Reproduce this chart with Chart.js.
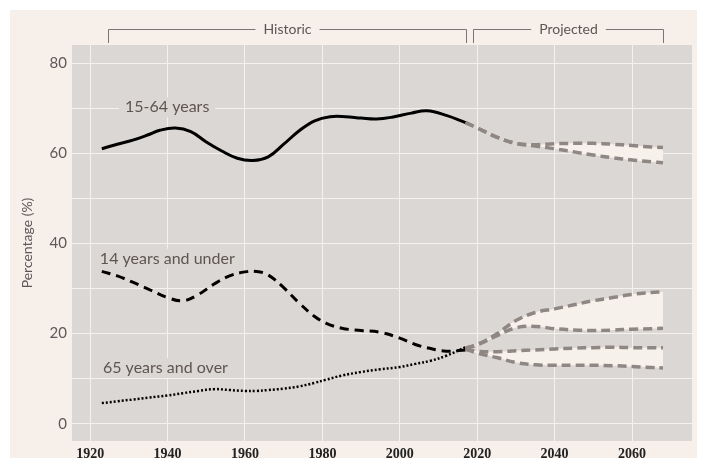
<!DOCTYPE html>
<html>
<head>
<meta charset="utf-8">
<script src="https://cdn.jsdelivr.net/npm/chart.js@4.4.1/dist/chart.umd.min.js"></script>
<style>
  html, body { margin: 0; padding: 0; background: #fff; }
  #wrap { width: 704px; height: 465px; }
</style>
</head>
<body>
<div id="wrap"><canvas id="line-chart" width="704" height="465"></canvas></div>
<script>
// historic data
const workingYears = [1923, 1927, 1931, 1935, 1938, 1942, 1946, 1950, 1954, 1958, 1962, 1966, 1970, 1974, 1978, 1982, 1986, 1990, 1994, 1998, 2003, 2007, 2012, 2017]
const working = [61.0, 62.0, 62.9, 64.1, 65.1, 65.6, 64.8, 62.5, 60.5, 58.9, 58.4, 59.2, 62.0, 65.0, 67.2, 68.1, 68.1, 67.8, 67.6, 68.0, 68.9, 69.4, 68.4, 66.8]
const histYears = [1923, 1927, 1931, 1935, 1940, 1944, 1948, 1952, 1956, 1960, 1963, 1966, 1970, 1974, 1978, 1981, 1985, 1990, 1995, 2000, 2004, 2008, 2012, 2017]
const children = [33.8, 32.8, 31.4, 29.9, 28.0, 27.3, 28.7, 31.0, 32.8, 33.7, 33.8, 33.0, 30.2, 26.8, 23.8, 22.3, 21.2, 20.7, 20.3, 19.0, 17.6, 16.7, 16.1, 16.4]
const elderly = [4.6, 5.0, 5.4, 5.8, 6.3, 6.8, 7.3, 7.7, 7.5, 7.3, 7.3, 7.5, 7.8, 8.3, 9.1, 9.8, 10.7, 11.5, 12.1, 12.6, 13.3, 14.0, 15.1, 17.0]

// projections
const projYears = [2017, 2020, 2025, 2030, 2035, 2040, 2045, 2050, 2055, 2060, 2065, 2068]
const workingHigh = [66.8, 65.6, 63.6, 62.2, 61.9, 62.1, 62.2, 62.2, 62.0, 61.7, 61.4, 61.3]
const workingLow = [66.8, 65.6, 63.6, 62.2, 61.6, 61.0, 60.3, 59.6, 59.0, 58.5, 58.1, 57.9]
const elderlyHigh = [16.8, 17.6, 19.9, 22.9, 24.7, 25.5, 26.4, 27.3, 28.0, 28.7, 29.1, 29.3]
const elderlyLow = [16.8, 17.5, 19.5, 21.3, 21.6, 21.1, 20.8, 20.7, 20.8, 21.0, 21.1, 21.2]
const childrenHigh = [16.6, 16.1, 16.0, 16.2, 16.4, 16.6, 16.8, 16.9, 17.0, 16.9, 16.9, 16.9]
const childrenLow = [16.6, 15.7, 14.7, 13.6, 13.1, 13.0, 13.0, 13.0, 12.9, 12.7, 12.5, 12.4]

// axis ticks
const xTicks = [1920, 1940, 1960, 1980, 2000, 2020, 2040, 2060]
const yGrid = [0, 10, 20, 30, 40, 50, 60, 70, 80]
const yLabels = [0, 20, 40, 60, 80]

// labels written on the plot
const seriesNames = ['15-64 years', '14 years and under', '65 years and over']
const nameYears = [1929, 1922.5, 1923.3]
const nameValues = [70.2, 36.6, 12.4]

const periodNames = ['Historic', 'Projected']
const periodFrom = [1924.5, 2019]
const periodTo = [2017, 2068]

const PLOT_BG = '#dbd7d4'
const PANEL_BG = '#f6efea'
const FILL = '#f7f1ec'
const PROJ = '#8f8784'
const TEXT = '#5e5552'

function pts(xs, ys) {
    return xs.map((x, i) => ({x: x, y: ys[i]}))
}

function proj(values, fill) {
    return {
        data: pts(projYears, values),
        borderColor: PROJ,
        borderWidth: 3.5,
        borderDash: [9, 5],
        pointRadius: 0,
        tension: 0.4,
        fill: fill ? {target: '+1', above: FILL, below: FILL} : false
    }
}

const backdrop = {
    id: 'backdrop',
    beforeDraw(chart) {
        const ctx = chart.ctx
        const a = chart.chartArea
        ctx.save()
        ctx.fillStyle = '#fff'
        ctx.fillRect(0, 0, chart.width, chart.height)
        ctx.fillStyle = PANEL_BG
        ctx.fillRect(10, 10, chart.width - 17, chart.height - 17)
        ctx.fillStyle = PLOT_BG
        ctx.fillRect(a.left, a.top, a.right - a.left, a.bottom - a.top)
        ctx.restore()
    }
}

const notes = {
    id: 'notes',
    afterDatasetsDraw(chart) {
        const ctx = chart.ctx
        const xs = chart.scales.x
        const ys = chart.scales.y
        ctx.save()
        ctx.font = '16px Lato'
        ctx.textBaseline = 'middle'
        ctx.textAlign = 'left'
        for (let i = 0; i < seriesNames.length; i++) {
            let px = xs.getPixelForValue(nameYears[i])
            let py = ys.getPixelForValue(nameValues[i])
            let w = ctx.measureText(seriesNames[i]).width
            ctx.fillStyle = PLOT_BG
            ctx.fillRect(px - 6, py - 10, w + 12, 20)
            ctx.fillStyle = TEXT
            ctx.fillText(seriesNames[i], px, py)
        }
        // brackets above the plot
        ctx.strokeStyle = '#7d7370'
        ctx.lineWidth = 1
        ctx.font = '14px Lato'
        ctx.textAlign = 'center'
        for (let i = 0; i < periodNames.length; i++) {
            let x1 = Math.round(xs.getPixelForValue(periodFrom[i])) + 0.5
            let x2 = Math.round(xs.getPixelForValue(periodTo[i])) + 0.5
            let y = 29.5
            let mid = (x1 + x2) / 2
            let w = ctx.measureText(periodNames[i]).width
            ctx.beginPath()
            ctx.moveTo(x1, 43); ctx.lineTo(x1, y); ctx.lineTo(mid - w / 2 - 8, y)
            ctx.moveTo(mid + w / 2 + 8, y); ctx.lineTo(x2, y); ctx.lineTo(x2, 43)
            ctx.stroke()
            ctx.fillStyle = TEXT
            ctx.fillText(periodNames[i], mid, y)
        }
        ctx.restore()
    }
}

new Chart(document.getElementById('line-chart'), {
    type: 'line',
    data: {
        datasets: [
            proj(workingHigh, true),
            proj(workingLow, false),
            proj(elderlyHigh, true),
            proj(elderlyLow, false),
            proj(childrenHigh, true),
            proj(childrenLow, false),
            {
                data: pts(workingYears, working),
                borderColor: '#000',
                borderWidth: 3,
                pointRadius: 0,
                tension: 0.4,
                fill: false
            },
            {
                data: pts(histYears, children),
                borderColor: '#000',
                borderWidth: 3,
                borderDash: [9, 6],
                pointRadius: 0,
                tension: 0.4,
                fill: false
            },
            {
                data: pts(histYears, elderly),
                borderColor: '#000',
                borderWidth: 2.5,
                borderDash: [2, 2],
                pointRadius: 0,
                tension: 0.4,
                fill: false
            }
        ]
    },
    options: {
        responsive: false,
        animation: false,
        layout: {padding: {top: 45, right: 12, left: 19, bottom: 0}},
        plugins: {
            legend: {display: false},
            tooltip: {enabled: false},
            filler: {drawTime: 'beforeDatasetsDraw'}
        },
        scales: {
            x: {
                type: 'linear',
                min: 1915.3,
                max: 2075.5,
                border: {display: false},
                grid: {color: '#f4f1ee', lineWidth: 1, drawTicks: false},
                ticks: {
                    padding: 5,
                    color: '#222',
                    font: {family: 'Liberation Serif', size: 14, weight: 'bold'},
                    callback: v => String(v)
                },
                afterBuildTicks: s => { s.ticks = xTicks.map(v => ({value: v})) },
                afterFit: s => { s.height = 24 }
            },
            y: {
                min: -3.8,
                max: 84,
                border: {display: false},
                grid: {color: '#f4f1ee', lineWidth: 1, drawTicks: false},
                ticks: {
                    padding: 5,
                    color: '#5e5858',
                    font: {family: 'Lato', size: 15},
                    callback: v => (yLabels.includes(v) ? String(v) : '')
                },
                afterBuildTicks: s => { s.ticks = yGrid.map(v => ({value: v})) },
                title: {
                    display: true,
                    text: 'Percentage (%)',
                    color: '#5e5858',
                    font: {family: 'Lato', size: 14},
                    padding: {top: 0, bottom: 8}
                },
                afterFit: s => { s.width = 53 }
            }
        }
    },
    plugins: [backdrop, notes]
})
</script>
</body>
</html>
